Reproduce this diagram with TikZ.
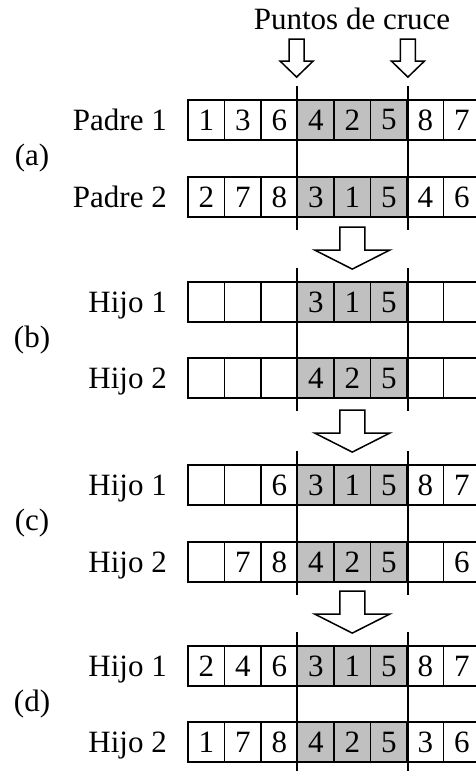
\documentclass[tikz,border=0pt]{standalone}
\usepackage{fontspec}
\setmainfont{Liberation Serif}
\definecolor{cutgray}{RGB}{192,192,192}
\newcommand{\vacio}{}

\begin{document}
\begin{tikzpicture}[x=1pt, y=-1pt, every node/.style={font=\fontsize{31}{37}\selectfont}, line width=1.8pt]
	\tikzset{cell/.style={draw, minimum width=36.5pt, minimum height=40pt, inner sep=0pt},
		kept/.style={cell, fill=cutgray},
		blockarrow/.style={draw, fill=white, line width=1.5pt, line join=miter}}
	\useasboundingbox (0,0) rectangle (475,771);
	\node (titulo) at (352,19) {Puntos de cruce};
	% rows of cells
	\foreach \r/\t/\lab/\vals in {a1/100/{Padre 1}/{1,3,6,4,2,5,8,7}, a2/177/{Padre 2}/{2,7,8,3,1,5,4,6},
		b1/282/{Hijo 1}/{\vacio,\vacio,\vacio,3,1,5,\vacio,\vacio}, b2/358/{Hijo 2}/{\vacio,\vacio,\vacio,4,2,5,\vacio,\vacio},
		c1/465/{Hijo 1}/{\vacio,\vacio,6,3,1,5,8,7}, c2/542/{Hijo 2}/{\vacio,7,8,4,2,5,\vacio,6},
		d1/646/{Hijo 1}/{2,4,6,3,1,5,8,7}, d2/722/{Hijo 2}/{1,7,8,4,2,5,3,6}} {
		\node[anchor=base east] (lab-\r) at (171,\t+30.5) {\lab};
		\foreach \v [count=\k] in \vals {
			\ifnum\k>3 \ifnum\k<7 \def\sty{kept}\else\def\sty{cell}\fi \else\def\sty{cell}\fi
			\node[\sty] (\r-\k) at (188+36.5*\k-18.25,\t+20) {\v};
		}
	}
	% group tags and cut lines
	\foreach \g/\t in {a/100, b/282, c/465, d/646} {
		\node (tag-\g) at (32,\t+58.5) {(\g)};
		\draw ([yshift=13pt]\g1-4.north west) -- ([yshift=-12pt]\g2-4.south west);
		\draw ([yshift=13pt]\g1-6.north east) -- ([yshift=-12pt]\g2-6.south east);
	}
	% crossover points
	\foreach \p in {a1-4.north west, a1-6.north east}
		\draw[blockarrow, shift={(\p)}] (-7.5,-60) -- (7.5,-60) -- (7.5,-38) -- (16.5,-38) -- (0,-22) -- (-16.5,-38) -- (-7.5,-38) -- cycle;
	% steps
	\foreach \g in {b,c,d}
		\draw[blockarrow, shift={(\g1-5.north)}] (-12.5,-54) -- (12.5,-54) -- (12.5,-31) -- (37.5,-31) -- (0,-12) -- (-37.5,-31) -- (-12.5,-31) -- cycle;
\end{tikzpicture}
\end{document}
